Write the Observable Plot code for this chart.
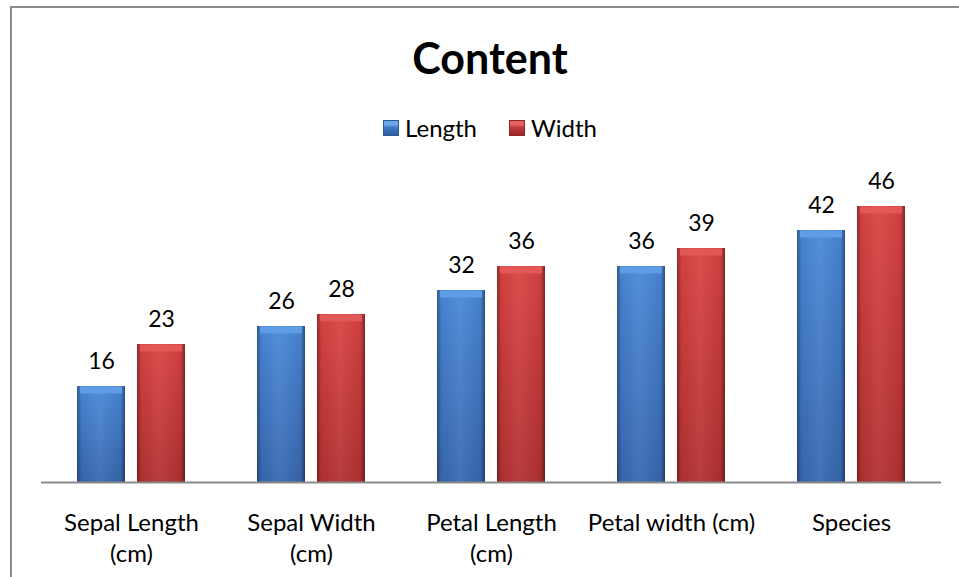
<!DOCTYPE html>
<html>
<head>
<meta charset="utf-8">
<script src="https://cdn.jsdelivr.net/npm/d3@7"></script>
<script src="https://cdn.jsdelivr.net/npm/@observablehq/plot@0.6"></script>
<style>
  html, body { margin: 0; padding: 0; background: #fff; }
  #chart {
    position: relative; width: 959px; height: 577px; overflow: hidden;
    font-family: Lato, "Open Sans", sans-serif; color: #000;
  }
  #frame {
    position: absolute; left: 10px; top: 6px; right: -4px; bottom: -4px;
    border-top: 2px solid #8c8c8c; border-left: 2px solid #8c8c8c;
  }
  #header { position: absolute; left: 0; top: 0; width: 980px; height: 150px; }
  #title {
    position: absolute; left: 0; width: 980px; top: 34px; text-align: center;
    font-size: 43px; font-weight: 700; line-height: 48px;
  }
  #legend {
    position: absolute; left: 0; width: 980px; top: 114px; display: flex;
    justify-content: center; align-items: center; gap: 32px;
    font-size: 24px; line-height: 28px;
  }
  .item { display: flex; align-items: center; gap: 6px; }
  .swatch { width: 16px; height: 16px; box-sizing: border-box; }
  .swatch.len {
    background: linear-gradient(to bottom, #6aa6ea 0 28%, #3f78c6 45%, #2f5f9f 100%);
    border: 1px solid #2c5a96;
  }
  .swatch.wid {
    background: linear-gradient(to bottom, #e86262 0 28%, #c23a3a 45%, #9a2929 100%);
    border: 1px solid #8e2626;
  }
  #plot { position: absolute; left: 0; top: 150px; }
</style>
</head>
<body>
<svg width="0" height="0" style="position:absolute">
  <defs>
    <linearGradient id="bodyLength" x1="0" y1="0" x2="0" y2="1">
      <stop offset="0" stop-color="#4a88d8"/>
      <stop offset="1" stop-color="#3868b0"/>
    </linearGradient>
    <linearGradient id="bodyWidth" x1="0" y1="0" x2="0" y2="1">
      <stop offset="0" stop-color="#da4343"/>
      <stop offset="1" stop-color="#b33131"/>
    </linearGradient>
    <linearGradient id="edges" x1="0" y1="0" x2="1" y2="0">
      <stop offset="0" stop-color="#000" stop-opacity="0.35"/>
      <stop offset="0.09" stop-color="#000" stop-opacity="0.04"/>
      <stop offset="0.45" stop-color="#fff" stop-opacity="0.06"/>
      <stop offset="0.91" stop-color="#000" stop-opacity="0.06"/>
      <stop offset="1" stop-color="#000" stop-opacity="0.42"/>
    </linearGradient>
  </defs>
</svg>
<div id="chart">
  <div id="frame"></div>
  <div id="header">
    <div id="title">Content</div>
    <div id="legend">
      <span class="item"><span class="swatch len"></span>Length</span>
      <span class="item"><span class="swatch wid"></span>Width</span>
    </div>
  </div>
  <div id="plot"></div>
</div>
<script>
// Iris measurement summary: two series per category
const categories = ["Sepal Length (cm)", "Sepal Width (cm)", "Petal Length (cm)", "Petal width (cm)", "Species"];
const tickLabels = ["Sepal Length\n(cm)", "Sepal Width\n(cm)", "Petal Length\n(cm)", "Petal width (cm)", "Species"];
const series = ["Length", "Width"];
const lengthValues = [16, 26, 32, 36, 42];
const widthValues = [23, 28, 36, 39, 46];

const rows = [];
categories.forEach((c, i) => {
  rows.push({category: c, series: "Length", value: lengthValues[i]});
  rows.push({category: c, series: "Width", value: widthValues[i]});
});
const labelOf = new Map(categories.map((c, i) => [c, tickLabels[i]]));
const isLen = d => d.series === "Length";
const isWid = d => d.series === "Width";

const chart = Plot.plot({
  width: 959,
  height: 427,
  marginTop: 32,
  marginBottom: 95,
  marginLeft: 40,
  marginRight: 18,
  style: {fontFamily: "Lato, 'Open Sans', sans-serif", fontSize: "24px", color: "#000", background: "transparent"},
  fx: {domain: categories, paddingInner: 0, paddingOuter: 0},
  x: {domain: series, paddingInner: 0.2, paddingOuter: 0.6, axis: null},
  y: {domain: [0, 50], axis: null},
  marks: [
    // bar bodies
    Plot.barY(rows.filter(isLen), {fx: "category", x: "series", y: "value", fill: "url(#bodyLength)"}),
    Plot.barY(rows.filter(isWid), {fx: "category", x: "series", y: "value", fill: "url(#bodyWidth)"}),
    // darker side bevels
    Plot.barY(rows, {fx: "category", x: "series", y: "value", fill: "url(#edges)"}),
    // lighter top bevel
    Plot.tickY(rows.filter(isLen), {fx: "category", x: "series", y: "value", stroke: "#5f9ce6", strokeWidth: 7, dy: 3.5, strokeLinecap: "butt", insetLeft: 3, insetRight: 3}),
    Plot.tickY(rows.filter(isWid), {fx: "category", x: "series", y: "value", stroke: "#e35757", strokeWidth: 7, dy: 3.5, strokeLinecap: "butt", insetLeft: 3, insetRight: 3}),
    // baseline
    Plot.ruleY([0], {stroke: "#8a8a8a", strokeWidth: 2}),
    // value labels
    Plot.text(rows, {fx: "category", x: "series", y: "value", text: d => String(d.value), dy: -18, lineAnchor: "bottom", fill: "#000", fontSize: 23}),
    // category axis
    Plot.axisFx({anchor: "bottom", tickSize: 0, tickPadding: 26, label: null, fontSize: 24, lineHeight: 1.3, fill: "#000", tickFormat: c => labelOf.get(c)})
  ]
});
document.getElementById("plot").appendChild(chart);
</script>
</body>
</html>
